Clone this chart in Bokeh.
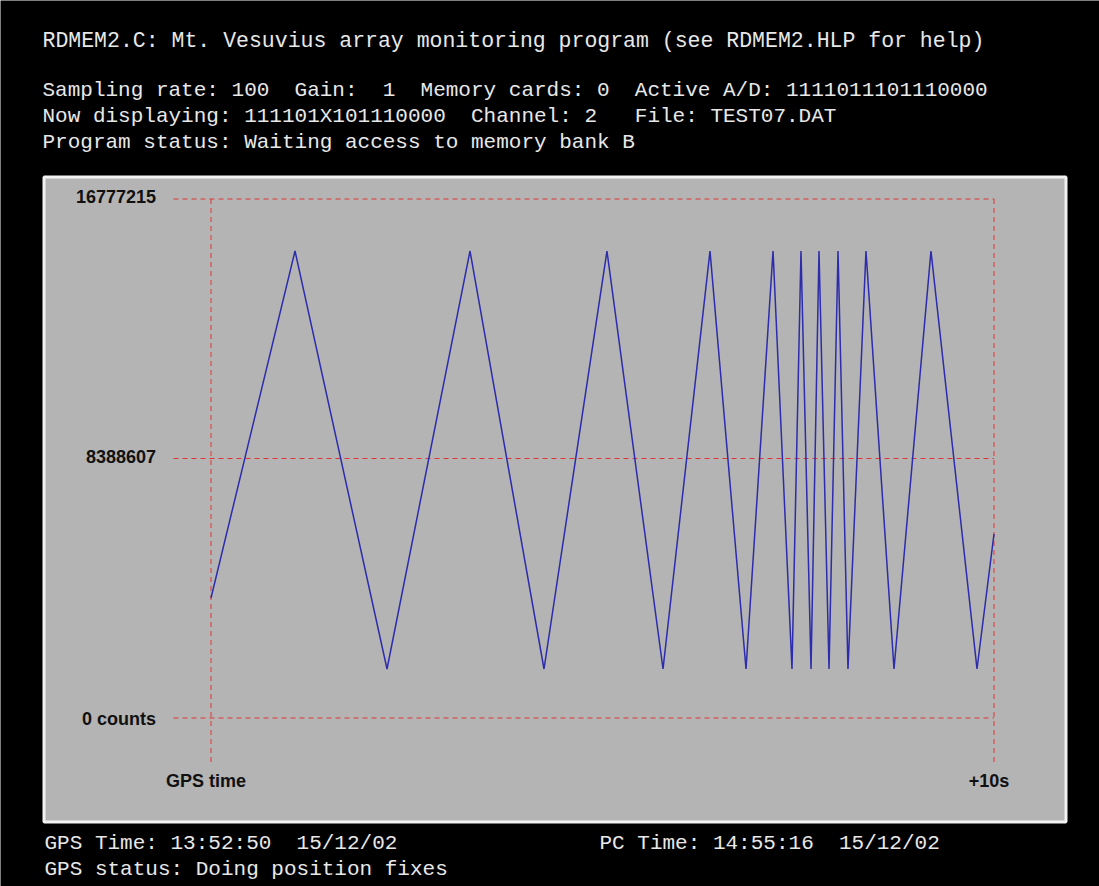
import re
from bokeh.plotting import figure
from bokeh.models import Range1d, Label
from bokeh.core.properties import value
from bokeh.embed import file_html
from bokeh.resources import INLINE

# ---------------- data ----------------
time_s = [0.0, 1.073, 2.248, 3.308, 4.253, 5.057, 5.773, 6.373, 6.833, 7.178,
          7.420, 7.535, 7.663, 7.765, 7.893, 8.008, 8.135, 8.365, 8.723, 9.195,
          9.783, 10.0]
counts = [3879000, 15096000, 1584000, 15096000, 1584000, 15096000, 1584000,
          15096000, 1584000, 15096000, 1584000, 15096000, 1584000, 15096000,
          1584000, 15096000, 1584000, 15096000, 1584000, 15096000, 1584000,
          5948000]

y_ticks = [0, 8388607, 16777215]
y_tick_labels = ["0 counts", "8388607", "16777215"]
x_ticks = [0, 10]
x_tick_labels = ["GPS time", "+10s"]

title_line = "RDMEM2.C: Mt. Vesuvius array monitoring program (see RDMEM2.HLP for help)"
header_lines = [
    "Sampling rate: 100  Gain:  1  Memory cards: 0  Active A/D: 1111011101110000",
    "Now displaying: 111101X101110000  Channel: 2   File: TEST07.DAT",
    "Program status: Waiting access to memory bank B",
]
footer_gps_time = "GPS Time: 13:52:50  15/12/02"
footer_pc_time = "PC Time: 14:55:16  15/12/02"
footer_status = "GPS status: Doing position fixes"

# ---------------- layout (reference-pixel geometry) ----------------
MARGIN = 0
W, H = 1099, 886
X0_PX, X10_PX = 210.5, 993.5
Y0_PX, YMAX_PX = 717.5, 198.5
FULL = 16777215.0
sx = (X10_PX - X0_PX) / 10.0
sy = (Y0_PX - YMAX_PX) / FULL


def X(px):
    return (px - X0_PX) / sx


def Y(py):
    return (Y0_PX - py) / sy


p = figure(width=W, height=H,
           x_range=Range1d(X(MARGIN), X(MARGIN + W)),
           y_range=Range1d(Y(MARGIN + H), Y(MARGIN)),
           x_axis_type=None, y_axis_type=None,
           toolbar_location=None, output_backend="svg", min_border=0)
p.background_fill_color = "black"
p.border_fill_color = "black"
p.outline_line_color = None

# gray panel with white border
p.quad(left=[X(43.5)], right=[X(1065.5)], top=[Y(176.5)], bottom=[Y(821.5)],
       fill_color="#b4b4b4", line_color="#f2f2f2", line_width=3)

GRID_COLOR = "#e03434"
GRID_DASH = "5 4"
# horizontal reference lines
p.segment(x0=[X(173)] * len(y_ticks), x1=[x_ticks[-1]] * len(y_ticks),
          y0=y_ticks, y1=y_ticks, line_color=GRID_COLOR, line_width=1,
          line_dash=GRID_DASH)
# vertical reference lines
p.segment(x0=x_ticks, x1=x_ticks, y0=[y_ticks[-1]] * len(x_ticks),
          y1=[Y(765)] * len(x_ticks), line_color=GRID_COLOR, line_width=1,
          line_dash=GRID_DASH)

# waveform
p.line(time_s, counts, line_color="#2c2cac", line_width=1.5)

LABEL_FONT = value("Liberation Sans")
p.text(x=[x_ticks[0]] * len(y_ticks), y=y_ticks, text=y_tick_labels,
       x_offset=-55, y_offset=[1, -2, -3], text_align="right",
       text_baseline="middle", text_font=LABEL_FONT, text_font_style="bold",
       text_font_size="18px", text_color="#111111")
p.text(x=x_ticks, y=[0] * len(x_ticks), text=x_tick_labels,
       x_offset=[-5, -5], y_offset=63, text_align="center",
       text_baseline="middle", text_font=LABEL_FONT, text_font_style="bold",
       text_font_size="18px", text_color="#111111")

MONO = "Liberation Mono"
TXT_COLOR = "#e8e8e8"


def keep_spaces(s):
    # SVG collapses runs of spaces; keep the console column layout
    return re.sub(r" {2,}", lambda m: "\u00a0" * len(m.group(0)), s)


def add_text(txt, px, py, size="21px"):
    p.add_layout(Label(x=X(px), y=Y(py), text=keep_spaces(txt), text_font=MONO,
                       text_font_size=size, text_color=TXT_COLOR,
                       text_align="left", text_baseline="middle"))


add_text(title_line, 42, 40, size="21.5px")
for txt, py in zip(header_lines, [90, 116, 142]):
    add_text(txt, 42, py)
add_text(footer_gps_time, 44, 843)
add_text(footer_pc_time, 599, 843)
add_text(footer_status, 44, 869)

open("out.html", "w").write(file_html(p, INLINE))
